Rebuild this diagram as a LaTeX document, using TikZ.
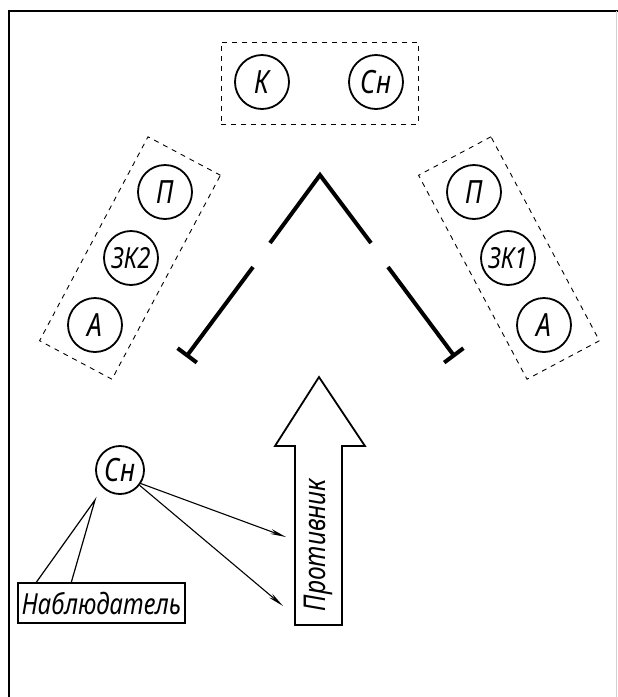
\documentclass[tikz,border=0pt]{standalone}
\usepackage{fontspec}
\newfontfamily\gostfont{Noto Sans}
\newcommand\gostnarrow[1]{\scalebox{0.82}[1]{#1}}
\usetikzlibrary{arrows.meta}
\tikzset{%
  unit/.style    = {circle, draw, line width=1.8pt, minimum size=54pt,%
                    inner sep=0pt, font=\gostfont\itshape\fontsize{32}{32}\selectfont},%
  group/.style   = {draw, line width=0.9pt, dash pattern=on 5pt off 5pt,%
                    minimum width=82pt, minimum height=231pt},%
  wing/.style    = {line width=4pt, line join=miter},%
  sight/.style   = {line width=1.1pt, -{Stealth[length=16pt,width=5pt]}},%
  caption/.style = {draw, line width=1.4pt, minimum width=167pt, minimum height=40pt,%
                    inner sep=0pt, font=\gostfont\itshape\fontsize{29}{29}\selectfont}%
}
\begin{document}
\begin{tikzpicture}[x=1pt,y=-1pt]
	\useasboundingbox (0,0) rectangle (618,697);
	% frame
	\draw[line width=1.6pt] (9,697) -- (9,11) -- (618,11);
	\draw[gray!35, line width=0.8pt] (616,11) -- (616,697);
	% command post
	\node[group, minimum width=197pt, minimum height=82pt] (hq) at (319.5,83) {};
	\node[unit] (k) at (262,82) {\gostnarrow{К}};
	\node[unit] (snhq) at (376,82) {\gostnarrow{Сн}};
	% left flank
	\node[group, rotate=-28] (lgrp) at (130,258) {};
	\node[unit] (lp) at (165,192) {\gostnarrow{П}};
	\node[unit, font=\gostfont\itshape\fontsize{29}{29}\selectfont] (lzk) at (131,258) {\gostnarrow{ЗК2}};
	\node[unit] (la) at (95,325) {\gostnarrow{А}};
	% right flank
	\node[group, rotate=28] (rgrp) at (509,258) {};
	\node[unit] (rp) at (474,192) {\gostnarrow{П}};
	\node[unit, font=\gostfont\itshape\fontsize{29}{29}\selectfont] (rzk) at (508,258) {\gostnarrow{ЗК1}};
	\node[unit] (ra) at (544,325) {\gostnarrow{А}};
	% defence line
	\coordinate (apex) at (320,175);
	\coordinate (lup) at (270,243);
	\coordinate (rup) at (371,243);
	\coordinate (llo) at (253,267);
	\coordinate (rlo) at (388,267);
	\coordinate (lend) at (186,357);
	\coordinate (rend) at (455,357);
	\draw[wing] (lup) -- (apex) -- (rup);
	\draw[wing, -{Bar[width=24pt]}] (llo) -- (lend);
	\draw[wing, -{Bar[width=24pt]}] (rlo) -- (rend);
	% enemy
	\draw[line width=1.8pt, line join=miter] (295,625) -- (295,446) -- (275,446) -- (319,377)
		-- (365,446) -- (342,446) -- (342,625) -- cycle;
	\node[rotate=90, font=\gostfont\itshape\fontsize{30}{30}\selectfont] (foe) at (318,545) {\gostnarrow{Противник}};
	% observer
	\node[unit, minimum size=48pt] (obs) at (120,470) {\gostnarrow{Сн}};
	\coordinate (aim1) at (286,537);
	\coordinate (aim2) at (283,606);
	\draw[sight] (obs.-33) -- (aim1);
	\draw[sight] (obs.-38) -- (aim2);
	\node[caption] (lbl) at (101.5,603) {\gostnarrow{Наблюдатель}};
	\coordinate (pin) at (95,500);
	\draw[line width=1.2pt] ([xshift=19pt]lbl.north west) -- (pin) -- ([xshift=54pt]lbl.north west);
\end{tikzpicture}
\end{document}
